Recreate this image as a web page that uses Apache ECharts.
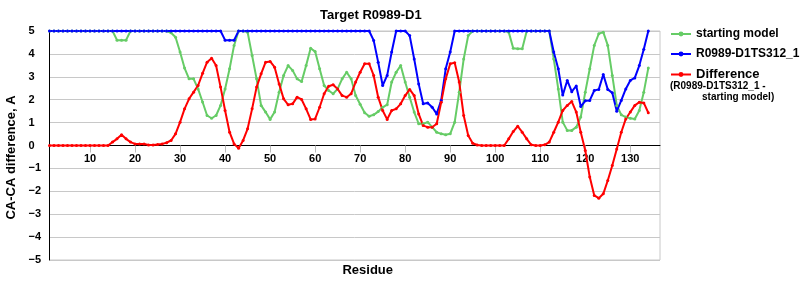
<!DOCTYPE html>
<html>
<head>
<meta charset="utf-8">
<script src="https://cdn.jsdelivr.net/npm/echarts@6/dist/echarts.min.js"></script>
<style>html,body{margin:0;padding:0;background:#fff}#c{width:800px;height:300px}</style>
</head>
<body>
<div id="c"></div>
<script>
const titleText = 'Target R0989-D1';
const xAxisName = 'Residue';
const yAxisName = 'CA-CA difference, A';
const seriesNames = ['starting model', 'R0989-D1TS312_1', 'Difference'];
const diffNote = ['(R0989-D1TS312_1 -', 'starting model)'];
const xTickLabels = [10, 20, 30, 40, 50, 60, 70, 80, 90, 100, 110, 120, 130];
const yTicks = [-5, -4, -3, -2, -1, 0, 1, 2, 3, 4, 5];

const startingModel = [
  5,5,5,5,5,5,5,5,5,5, 5,5,5,5,5,4.6,4.6,4.6,5,5,
  5,5,5,5,5,5,5,4.92,4.73,4.08, 3.38,2.91,2.91,2.47,1.9,1.31,1.19,1.31,1.75,2.47,
  3.35,4.37,5,5,4.95,3.93,2.91,1.75,1.46,1.14, 1.46,2.33,3.06,3.49,3.28,2.91,2.79,3.49,4.25,4.1,
  3.35,2.62,2.4,2.26,2.47,2.91,3.2,2.91,2.18,1.8, 1.43,1.28,1.34,1.48,1.67,1.78,2.77,3.2,3.49,2.77,
  2.11,1.46,0.95,0.95,1.02,0.8,0.58,0.51,0.47,0.51, 1.02,2.33,3.78,4.8,5,5,5,5,5,5,
  5,5,4.95,4.25,4.22,4.22,5,5,5,5, 5,5,3.78,2.47,1.02,0.66,0.66,0.8,1.24,2.33,
  3.35,4.37,4.88,4.95,4.37,3.06,1.75,1.34,1.24,1.19, 1.16,1.53,2.33,3.38
];
const modelTS312 = [
  5,5,5,5,5,5,5,5,5,5, 5,5,5,5,5,5,5,5,5,5,
  5,5,5,5,5,5,5,5,5,5, 5,5,5,5,5,5,5,5,5,4.6,
  4.6,4.6,5,5,5,5,5,5,5,5, 5,5,5,5,5,5,5,5,5,5,
  5,5,5,5,5,5,5,5,5,5, 5,5,4.59,3.64,2.62,3.06,4.08,5,5,5,
  4.8,3.78,2.69,1.82,1.86,1.67,1.38,1.97,3.35,4.08, 5,5,5,5,5,5,5,5,5,5,
  5,5,5,5,5,5,5,5,5,5, 5,5,4.08,3.35,2.2,2.84,2.35,2.6,1.7,1.95,
  1.97,2.4,2.45,3.1,2.45,2.3,1.5,1.97,2.47,2.84, 2.95,3.49,4.2,5
];
const difference = [
  0,0,0,0,0,0,0,0,0,0, 0,0,0,0,0.15,0.29,0.47,0.29,0.15,0.07,
  0.07,0.07,0.02,0.02,0.04,0.07,0.12,0.22,0.51,1.02, 1.6,2.04,2.33,2.62,3.15,3.64,3.81,3.49,2.55,1.53,
  0.58,0.07,-0.12,0.22,0.73,1.6,2.55,3.13,3.64,3.67, 3.42,2.69,2.04,1.78,1.82,2.11,2.01,1.6,1.14,1.16,
  1.67,2.26,2.59,2.65,2.47,2.18,2.11,2.26,2.77,3.2, 3.57,3.57,3.06,2.11,1.53,1.14,1.53,1.6,1.82,2.18,
  2.45,2.18,1.38,0.87,0.8,0.8,0.95,1.89,2.91,3.57, 3.61,2.77,1.31,0.44,0.1,0.02,0,0,0,0,
  0,0,0.29,0.61,0.84,0.58,0.29,0.03,0,0, 0.03,0.15,0.58,1.02,1.53,1.75,1.92,1.46,0.58,-0.22,
  -1.38,-2.18,-2.3,-2.11,-1.53,-0.87,-0.15,0.58,1.16,1.46, 1.75,1.89,1.86,1.43
];
const residues = startingModel.map((_, i) => i + 1);

const colors = ['#66cc66', '#0000ff', '#ff0000'];
const FONT = '"Liberation Sans", Arial, sans-serif';

function pairs(vals) { return vals.map((v, i) => [residues[i], v]); }

const chart = echarts.init(document.getElementById('c'), null, { renderer: 'canvas' });
chart.setOption({
  animation: false,
  textStyle: { fontFamily: FONT },
  title: {
    text: titleText, left: 320, top: 9, padding: 0,
    textStyle: { fontFamily: FONT, fontSize: 13, fontWeight: 'bold', color: '#000' }
  },
  legend: {
    orient: 'vertical', left: 670, top: 28, padding: 0, itemWidth: 20, itemHeight: 6, itemGap: 8,
    data: [
      { name: seriesNames[0] },
      { name: seriesNames[1] },
      { name: seriesNames[2], textStyle: { fontSize: 13 } }
    ],
    textStyle: { fontFamily: FONT, fontSize: 12, fontWeight: 'bold', color: '#000' }
  },
  grid: { left: 49.5, right: 140, top: 31, bottom: 40, show: true, borderColor: '#c8c8c8', borderWidth: 1, containLabel: false, outerBoundsMode: 'none' },
  xAxis: {
    type: 'value', min: 1, max: 136.6, offset: -114.5,
    name: xAxisName, nameLocation: 'middle', nameGap: 118,
    nameTextStyle: { fontFamily: FONT, fontSize: 13, fontWeight: 'bold', color: '#000', padding: [0, 0, 0, 26] },
    axisLine: { onZero: false, lineStyle: { color: '#000', width: 1 } },
    axisTick: { show: true, customValues: xTickLabels, length: 7, lineStyle: { color: '#bbbbbb' } },
    axisLabel: { customValues: xTickLabels, margin: 8, fontFamily: FONT, fontSize: 11, fontWeight: 'bold', color: '#000' },
    splitLine: { show: false }
  },
  yAxis: {
    type: 'value', min: -5, max: 5, interval: 1,
    name: yAxisName, nameLocation: 'middle', nameGap: 29,
    nameTextStyle: { fontFamily: FONT, fontSize: 13, fontWeight: 'bold', color: '#000', padding: [0, 24, 0, 0] },
    axisLine: { show: true, lineStyle: { color: '#000', width: 1 } },
    axisTick: { show: false },
    axisLabel: {
      align: 'left', margin: 21, fontFamily: FONT, fontSize: 11, fontWeight: 'bold', color: '#000',
      formatter: v => (v < 0 ? '\u2212' + (-v) : String(v))
    },
    splitLine: { show: true, lineStyle: { color: '#c8c8c8', width: 1 } }
  },
  graphic: [
    { type: 'text', left: 670, top: 81, style: { text: diffNote[0], fontFamily: FONT, fontSize: 10, fontWeight: 'bold', fill: '#000' } },
    { type: 'text', left: 702, top: 92, style: { text: diffNote[1], fontFamily: FONT, fontSize: 10, fontWeight: 'bold', fill: '#000' } }
  ],
  series: [
    { name: seriesNames[0], type: 'line', data: pairs(startingModel), color: colors[0], symbol: 'circle', symbolSize: 3, showSymbol: true, lineStyle: { width: 2 } },
    { name: seriesNames[1], type: 'line', data: pairs(modelTS312), color: colors[1], symbol: 'circle', symbolSize: 3, showSymbol: true, lineStyle: { width: 2 } },
    { name: seriesNames[2], type: 'line', data: pairs(difference), color: colors[2], symbol: 'circle', symbolSize: 3, showSymbol: true, lineStyle: { width: 2 } }
  ]
});
</script>
</body>
</html>
